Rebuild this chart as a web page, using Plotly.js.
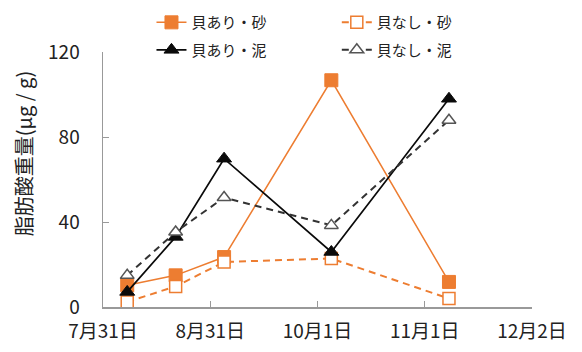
<!DOCTYPE html>
<html>
<head>
<meta charset="utf-8">
<script src="https://cdn.plot.ly/plotly-3.0.1.min.js"></script>
<style>html,body{margin:0;padding:0;background:#fff;}#chart{width:582px;height:352px;}</style>
</head>
<body>
<div id="chart"></div>
<script>
// Sampling dates
const dates = ['2013-08-07', '2013-08-21', '2013-09-04', '2013-10-05', '2013-11-08'];
// Series values (μg/g)
const kaiAriSuna = [10.2, 14.9, 23.5, 106.7, 11.8];
const kaiNashiSuna = [2.4, 9.7, 21.2, 22.8, 4.0];
const kaiAriDoro = [7.1, 33.0, 69.8, 25.9, 98.0];
const kaiNashiDoro = [14.9, 35.3, 51.5, 38.4, 87.9];
const seriesNames = ['貝あり・砂', '貝なし・砂', '貝あり・泥', '貝なし・泥'];
// Axis ticks
const xTickVals = ['2013-07-31', '2013-08-31', '2013-10-01', '2013-11-01', '2013-12-02'];
const xTickText = ['7月31日', '8月31日', '10月1日', '11月1日', '12月2日'];
const yTickVals = [0, 40, 80, 120];
const yTitle = '脂肪酸重量(μg / g)';

const orange = '#ED7D31';
const black = '#0a0a0a';
const FONT = '"Noto Sans CJK JP", "Noto Sans", sans-serif';

const traces = [
  {x: dates, y: kaiAriSuna, name: seriesNames[0], legend: 'legend', legendgroup: 'a',
   mode: 'lines+markers', line: {color: orange, width: 1.5},
   marker: {symbol: 'square', size: 13, color: orange, line: {color: orange, width: 1}}},
  {x: dates, y: kaiNashiSuna, name: seriesNames[1], legend: 'legend2', legendgroup: 'b',
   mode: 'lines+markers', line: {color: orange, width: 2, dash: '7px,5px'},
   marker: {symbol: 'square', size: 12, color: '#ffffff', line: {color: orange, width: 1.5}}},
  {x: dates, y: kaiAriDoro, name: seriesNames[2], legend: 'legend', legendgroup: 'c',
   mode: 'lines+markers', line: {color: black, width: 1.7},
   marker: {symbol: 'triangle-up', size: 13, color: black, line: {color: black, width: 1}}},
  {x: dates, y: kaiNashiDoro, name: seriesNames[3], legend: 'legend2', legendgroup: 'd',
   mode: 'lines+markers', line: {color: '#333333', width: 2, dash: '7px,5px'},
   marker: {symbol: 'triangle-up', size: 12, color: '#ffffff', line: {color: '#555555', width: 1.5}}}
];

const legendCommon = {
  orientation: 'v', yanchor: 'top', xanchor: 'left', y: 1.18,
  bgcolor: 'rgba(0,0,0,0)', borderwidth: 0, tracegroupgap: 5,
  font: {family: FONT, size: 15, color: '#222'}, itemwidth: 30
};

const layout = {
  width: 582, height: 352,
  margin: {l: 103, r: 50, t: 52, b: 45, autoexpand: false},
  paper_bgcolor: '#ffffff', plot_bgcolor: '#ffffff',
  font: {family: FONT, color: '#222'},
  showlegend: true,
  legend: Object.assign({}, legendCommon, {x: 0.113}),
  legend2: Object.assign({}, legendCommon, {x: 0.545}),
  xaxis: {
    type: 'date', range: ['2013-07-31', '2013-12-02'],
    tickmode: 'array', tickvals: xTickVals, ticktext: xTickText,
    ticks: 'inside', ticklen: 6, tickcolor: '#999', tickwidth: 1,
    showline: true, linecolor: '#999', linewidth: 1.5,
    showgrid: false, zeroline: false, ticklabelstandoff: 7,
    tickfont: {family: FONT, size: 19, color: '#222'}
  },
  yaxis: {
    range: [0, 120], tickmode: 'array', tickvals: yTickVals,
    ticks: 'inside', ticklen: 6, tickcolor: '#999', tickwidth: 1,
    showline: true, linecolor: '#999', linewidth: 1.5,
    showgrid: false, zeroline: false, ticklabelstandoff: 18,
    tickfont: {family: FONT, size: 19, color: '#222'}
  },
  annotations: [{
    text: yTitle, textangle: -90, xref: 'paper', yref: 'paper',
    x: (23 - 103) / 429, y: (306.7 - 154) / 255, xanchor: 'center', yanchor: 'middle',
    showarrow: false, font: {family: FONT, size: 20, color: '#222'}
  }]
};

Plotly.newPlot('chart', traces, layout, {displayModeBar: false, staticPlot: true});
</script>
</body>
</html>
